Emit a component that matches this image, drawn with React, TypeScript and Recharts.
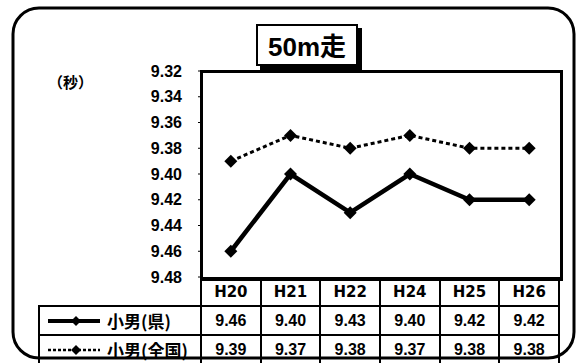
import { LineChart, Line, XAxis, YAxis } from "recharts";

const years = ["H20", "H21", "H22", "H24", "H25", "H26"];
const prefValues = [9.46, 9.4, 9.43, 9.4, 9.42, 9.42];
const nationalValues = [9.39, 9.37, 9.38, 9.37, 9.38, 9.38];
const yTicks = [9.32, 9.34, 9.36, 9.38, 9.4, 9.42, 9.44, 9.46, 9.48];

const seriesRows = [
  { key: "pref", label: "小男(県)", values: prefValues, dash: undefined, width: 4 },
  { key: "national", label: "小男(全国)", values: nationalValues, dash: "3 2", width: 2.5 },
];

const data = years.map((y, i) => ({ year: y, pref: prefValues[i], national: nationalValues[i] }));

const W = 576;
const H = 363;
const PLOT_L = 201;
const PLOT_R = 559;
const PLOT_T = 71;
const PLOT_B = 277;
const LEGEND_L = 39;
const colW = (PLOT_R - PLOT_L) / years.length;

const numFont = "'Liberation Sans', Arial, sans-serif";
const cjkFont = "'Noto Sans CJK JP', 'Liberation Sans', sans-serif";

const Diamond = (props: any) => {
  const { cx, cy } = props;
  if (cx == null || cy == null) return null;
  const r = 6.5;
  return <polygon points={`${cx},${cy - r} ${cx + r},${cy} ${cx},${cy + r} ${cx - r},${cy}`} fill="#000" />;
};

function LegendSample({ dash, width }: { dash?: string; width: number }) {
  return (
    <svg width={54} height={14} style={{ display: "block" }}>
      <line x1={1} y1={7} x2={53} y2={7} stroke="#000" strokeWidth={width} strokeDasharray={dash} />
      <polygon points="29,2 34,7 29,12 24,7" fill="#000" />
    </svg>
  );
}

export default function App() {
  return (
    <div style={{ position: "fixed", left: 0, top: 0, width: W, height: H, background: "#fff", overflow: "hidden" }}>
      {/* outer rounded frame */}
      <svg width={W} height={H} style={{ position: "absolute", left: 0, top: 0 }}>
        <rect x={13} y={8} width={561} height={350} rx={26} ry={26} fill="none" stroke="#000" strokeWidth={3} />
      </svg>

      <div
        style={{
          position: "absolute",
          left: 48,
          top: 71,
          fontFamily: cjkFont,
          fontWeight: 700,
          fontSize: 15,
        }}
      >
        （秒）
      </div>

      <div style={{ position: "absolute", left: 0, top: 0 }}>
        <LineChart width={W} height={H} data={data} margin={{ top: PLOT_T, right: W - PLOT_R, bottom: H - PLOT_B, left: PLOT_L - 60 }}>
          <XAxis dataKey="year" hide padding={{ left: colW / 2, right: colW / 2 }} />
          <YAxis
            width={60}
            domain={[9.32, 9.48]}
            reversed
            ticks={yTicks}
            interval={0}
            allowDataOverflow
            axisLine={false}
            tickSize={3}
            tickMargin={16}
            tickLine={{ stroke: "#000", strokeWidth: 1 }}
            tick={{ fill: "#000", fontSize: 16, fontWeight: 700, fontFamily: numFont }}
            tickFormatter={(v: number) => v.toFixed(2)}
          />
          <Line
            dataKey="national"
            stroke="#000"
            strokeWidth={3}
            strokeDasharray="4 3"
            dot={<Diamond />}
            activeDot={false}
            isAnimationActive={false}
          />
          <Line
            dataKey="pref"
            stroke="#000"
            strokeWidth={4.5}
            dot={<Diamond />}
            activeDot={false}
            isAnimationActive={false}
          />
        </LineChart>
      </div>

      {/* plot frame */}
      <div
        style={{
          position: "absolute",
          left: PLOT_L - 1,
          top: PLOT_T - 1,
          width: PLOT_R - PLOT_L - 1,
          height: PLOT_B - PLOT_T - 1,
          border: "3px solid #000",
          boxSizing: "content-box",
          pointerEvents: "none",
        }}
      />

      {/* title */}
      <div
        style={{
          position: "absolute",
          left: 256,
          top: 24,
          width: 98,
          height: 38,
          border: "2px solid #000",
          boxShadow: "4px 4px 0 #000",
          background: "#fff",
          fontFamily: numFont,
          fontWeight: 700,
          fontSize: 26,
          lineHeight: "38px",
          textAlign: "center",
        }}
      >
        50m<span style={{ fontFamily: cjkFont, fontWeight: 700 }}>走</span>
      </div>

      {/* data table */}
      <table
        style={{
          position: "absolute",
          left: LEGEND_L - 1,
          top: PLOT_B,
          borderCollapse: "collapse",
          tableLayout: "fixed",
          width: PLOT_R - LEGEND_L + 2,
        }}
      >
        <colgroup>
          <col style={{ width: PLOT_L - LEGEND_L }} />
          {years.map((y) => (
            <col key={y} style={{ width: colW }} />
          ))}
        </colgroup>
        <tbody>
          <tr style={{ height: 28 }}>
            <td style={{ padding: 0 }} />
            {years.map((y) => (
              <td
                key={y}
                style={{
                  border: "2px solid #000",
                  padding: 0,
                  textAlign: "center",
                  fontFamily: "'DejaVu Sans', sans-serif",
                  fontWeight: 700,
                  fontSize: 15,
                }}
              >
                {y}
              </td>
            ))}
          </tr>
          {seriesRows.map((s) => (
            <tr key={s.key} style={{ height: 29 }}>
              <td style={{ border: "2px solid #000", padding: "0 0 0 7px" }}>
                <div style={{ display: "flex", alignItems: "center", gap: 6 }}>
                  <LegendSample dash={s.dash} width={s.width} />
                  <span style={{ fontFamily: cjkFont, fontWeight: 700, fontSize: 17 }}>{s.label}</span>
                </div>
              </td>
              {s.values.map((v, i) => (
                <td
                  key={i}
                  style={{
                    border: "2px solid #000",
                    padding: 0,
                    textAlign: "center",
                    fontFamily: numFont,
                    fontWeight: 700,
                    fontSize: 16,
                  }}
                >
                  {v.toFixed(2)}
                </td>
              ))}
            </tr>
          ))}
        </tbody>
      </table>
    </div>
  );
}
